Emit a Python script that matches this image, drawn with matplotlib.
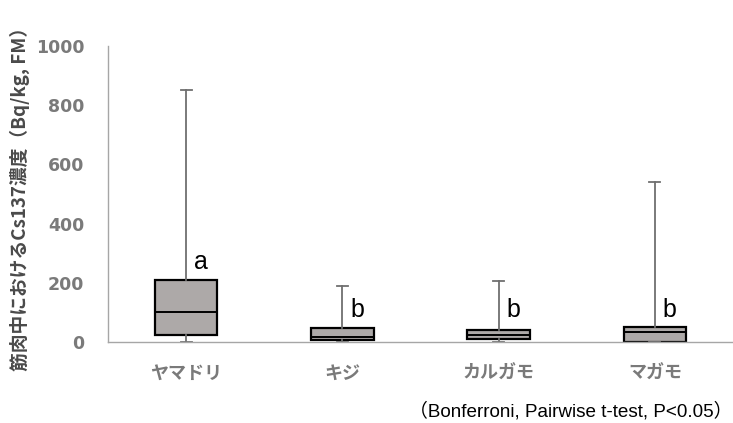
import matplotlib.pyplot as plt

plt.rcParams['font.family'] = ['Noto Sans CJK JP', 'DejaVu Sans']

species = ['ヤマドリ', 'キジ', 'カルガモ', 'マガモ']
whislo = [0, 0, 0, 0]
q1 = [25, 6, 10, 0]
med = [102, 18, 24, 33]
q3 = [210, 46, 40, 52]
whishi = [850, 190, 205, 540]
groups = ['a', 'b', 'b', 'b']
group_y = [270, 108, 108, 108]

stats = []
for i in range(len(species)):
    stats.append(dict(label=species[i], whislo=whislo[i], q1=q1[i], med=med[i],
                      q3=q3[i], whishi=whishi[i], fliers=[]))

fig = plt.figure(figsize=(7.33, 4.23), dpi=100)
ax = fig.add_axes([108/733, 1-342/423, 1-108/733, 296/423])

pos = list(range(len(species)))
ax.bxp(stats, positions=pos, widths=0.4, patch_artist=True, showfliers=False,
       capwidths=0.07,
       boxprops=dict(facecolor='#ada9a8', edgecolor='black', linewidth=1.6),
       medianprops=dict(color='black', linewidth=1.4),
       whiskerprops=dict(color='#6f6f6f', linewidth=1.3),
       capprops=dict(color='#6f6f6f', linewidth=1.3))

# significance group letters
for i in pos:
    ax.text(i + 0.095, group_y[i], groups[i], fontsize=18, family='Liberation Sans',
            ha='center', va='center', color='black')

ax.set_xlim(-0.5, 3.5)
ax.set_ylim(0, 1000)
ax.set_yticks([0, 200, 400, 600, 800, 1000])
ax.set_xticks(pos)
ax.set_xticklabels(species, fontsize=13, fontweight='bold', color='#7a7a7a')
for t in ax.get_yticklabels():
    t.set_fontsize(12.5)
    t.set_fontweight('bold')
    t.set_family('DejaVu Sans')
    t.set_color('#7a7a7a')
ax.tick_params(length=0)
ax.tick_params(axis='x', pad=16)
ax.tick_params(axis='y', pad=17)

for s in ['top', 'right']:
    ax.spines[s].set_visible(False)
for s in ['left', 'bottom']:
    ax.spines[s].set_color('#a6a6a6')
    ax.spines[s].set_linewidth(1)

ax.set_ylabel('筋肉中におけるCs137濃度（Bq/kg, FM）', fontsize=13.5, fontweight='bold',
              color='#4a4a4a')
ax.yaxis.set_label_coords(-0.125, 0.5)

fig.text(0.999, 0.027, '（Bonferroni, Pairwise t-test, P<0.05）', ha='right', va='center',
         fontsize=13.6, family=['Liberation Sans', 'Noto Sans CJK JP'], color='black')

plt.savefig('out.png', dpi=100)
